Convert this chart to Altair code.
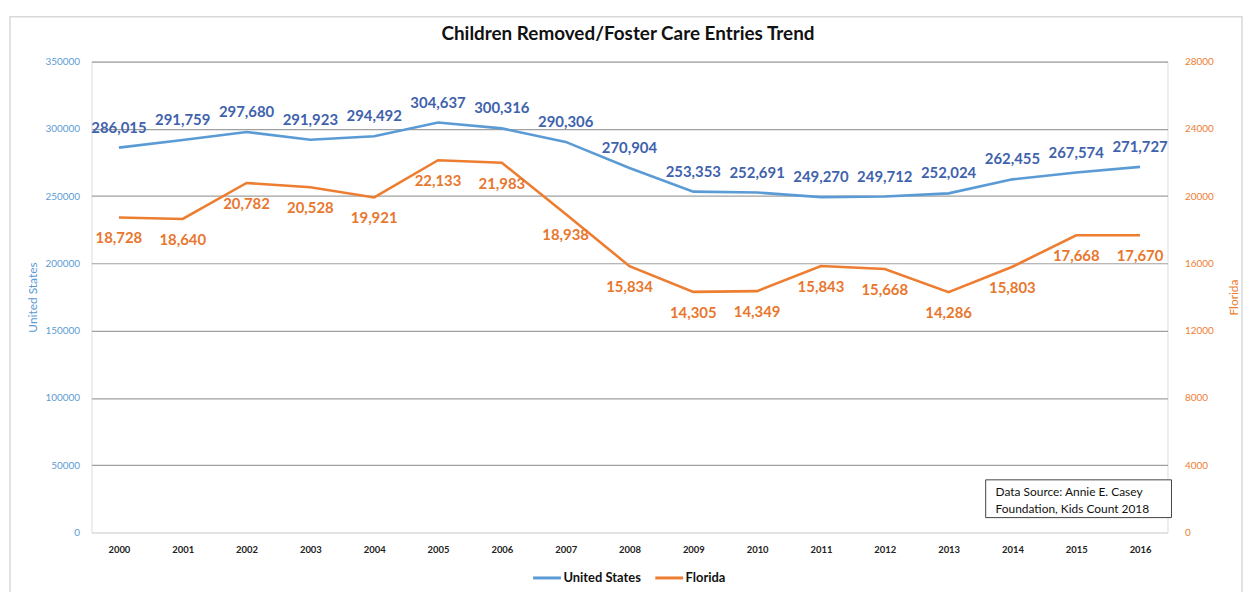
import altair as alt
import pandas as pd

years = [str(y) for y in range(2000, 2017)]
us_values = [286015, 291759, 297680, 291923, 294492, 304637, 300316, 290306, 270904,
             253353, 252691, 249270, 249712, 252024, 262455, 267574, 271727]
fl_values = [18728, 18640, 20782, 20528, 19921, 22133, 21983, 18938, 15834,
             14305, 14349, 15843, 15668, 14286, 15803, 17668, 17670]
series_names = ["United States", "Florida"]
us_ticks = list(range(0, 350001, 50000))
fl_ticks = list(range(0, 28001, 4000))
source_lines = ["Data Source: Annie E. Casey", "Foundation, Kids Count 2018"]
title_text = "Children Removed/Foster Care Entries Trend"

us_df = pd.DataFrame({"year": years, "value": us_values, "series": series_names[0]})
fl_df = pd.DataFrame({"year": years, "value": fl_values, "series": series_names[1]})
dummy = pd.DataFrame({"a": [0]})

FONT = "Lato"
BLUE = "#5B9BD5"
ORANGE = "#ED7D31"
US_LABEL = "#3F62AD"
FL_LABEL = "#E8772E"

x_enc = alt.X(
    "year:O",
    scale=alt.Scale(type="point", padding=0.43),
    axis=alt.Axis(title=None, labelAngle=0, labelFont=FONT, labelFontSize=9.5,
                  labelFontWeight="bold", labelColor="#222222", domain=False,
                  ticks=False, labelPadding=12, grid=False),
)

color_enc = alt.Color(
    "series:N",
    scale=alt.Scale(domain=series_names, range=[BLUE, ORANGE]),
    legend=alt.Legend(title=None, orient="none", legendX=443, legendY=504,
                      direction="horizontal", symbolType="stroke",
                      symbolStrokeWidth=3, symbolSize=784, labelFont=FONT,
                      labelFontSize=13, labelFontWeight="bold",
                      labelColor="#111111", columnPadding=8, labelOffset=1),
)

us_y = alt.Y(
    "value:Q",
    scale=alt.Scale(domain=[0, 350000], nice=False),
    axis=alt.Axis(orient="left", values=us_ticks, format="d", title="United States",
                  titleColor=BLUE, titleFont=FONT, titleFontSize=12,
                  titleFontWeight="normal", titlePadding=6,
                  labelColor=BLUE, labelFont=FONT, labelFontSize=10,
                  labelPadding=12, domain=False, ticks=False, grid=True,
                  gridColor={"condition": {"test": "datum.value === 0", "value": "#d9d9d9"},
                             "value": "#a0a0a0"},
                  gridWidth=1.2),
)

fl_y = alt.Y(
    "value:Q",
    scale=alt.Scale(domain=[0, 28000], nice=False),
    axis=alt.Axis(orient="right", values=fl_ticks, format="d", title="Florida",
                  titleColor=ORANGE, titleFont=FONT, titleFontSize=12,
                  titleFontWeight="normal", titlePadding=27, titleAngle=270,
                  labelColor=ORANGE, labelFont=FONT, labelFontSize=10,
                  labelPadding=17, domain=False, ticks=False, grid=False),
)

us_base = alt.Chart(us_df).encode(x=x_enc, y=us_y)
us_line = us_base.mark_line(strokeWidth=2.6).encode(color=color_enc)
us_text = us_base.mark_text(font=FONT, fontSize=15, fontWeight="bold", color=US_LABEL,
                            dy=-20, baseline="middle").encode(
    text=alt.Text("value:Q", format=","))

fl_base = alt.Chart(fl_df).encode(x=x_enc, y=fl_y)
fl_line = fl_base.mark_line(strokeWidth=2.6).encode(color=color_enc)
fl_text = fl_base.mark_text(font=FONT, fontSize=15, fontWeight="bold", color=FL_LABEL,
                            dy=21, baseline="middle").encode(
    text=alt.Text("value:Q", format=","))

frame = alt.Chart(dummy).mark_rect(fill=None, stroke="#d9d9d9", strokeWidth=1.5).encode(
    x=alt.value(-82), x2=alt.value(1158), y=alt.value(-45), y2=alt.value(600))

title_mark = alt.Chart(dummy).mark_text(font=FONT, fontSize=19, fontWeight="bold",
                                        color="#111111", align="center",
                                        baseline="middle").encode(
    x=alt.value(540), y=alt.value(-28), text=alt.value(title_text))

box = alt.Chart(dummy).mark_rect(fill="white", stroke="#444444", strokeWidth=1).encode(
    x=alt.value(900), x2=alt.value(1087), y=alt.value(421), y2=alt.value(459))
box_text = alt.Chart(dummy).mark_text(font=FONT, fontSize=12, color="#111111", align="left",
                                      baseline="middle", lineBreak="\n", lineHeight=17).encode(
    x=alt.value(910), y=alt.value(433), text=alt.value("\n".join(source_lines)))

chart = alt.layer(
    frame,
    title_mark,
    alt.layer(us_line, us_text),
    alt.layer(fl_line, fl_text),
    box,
    box_text,
).resolve_scale(y="independent").properties(
    width=1083,
    height=474,
    autosize=alt.AutoSizeParams(type="none"),
    padding={"left": 84, "top": 52, "right": 78, "bottom": 60},
).configure_view(stroke=None).configure(background="white")

chart.save("out.html", embed_options={"renderer": "svg", "actions": False})
